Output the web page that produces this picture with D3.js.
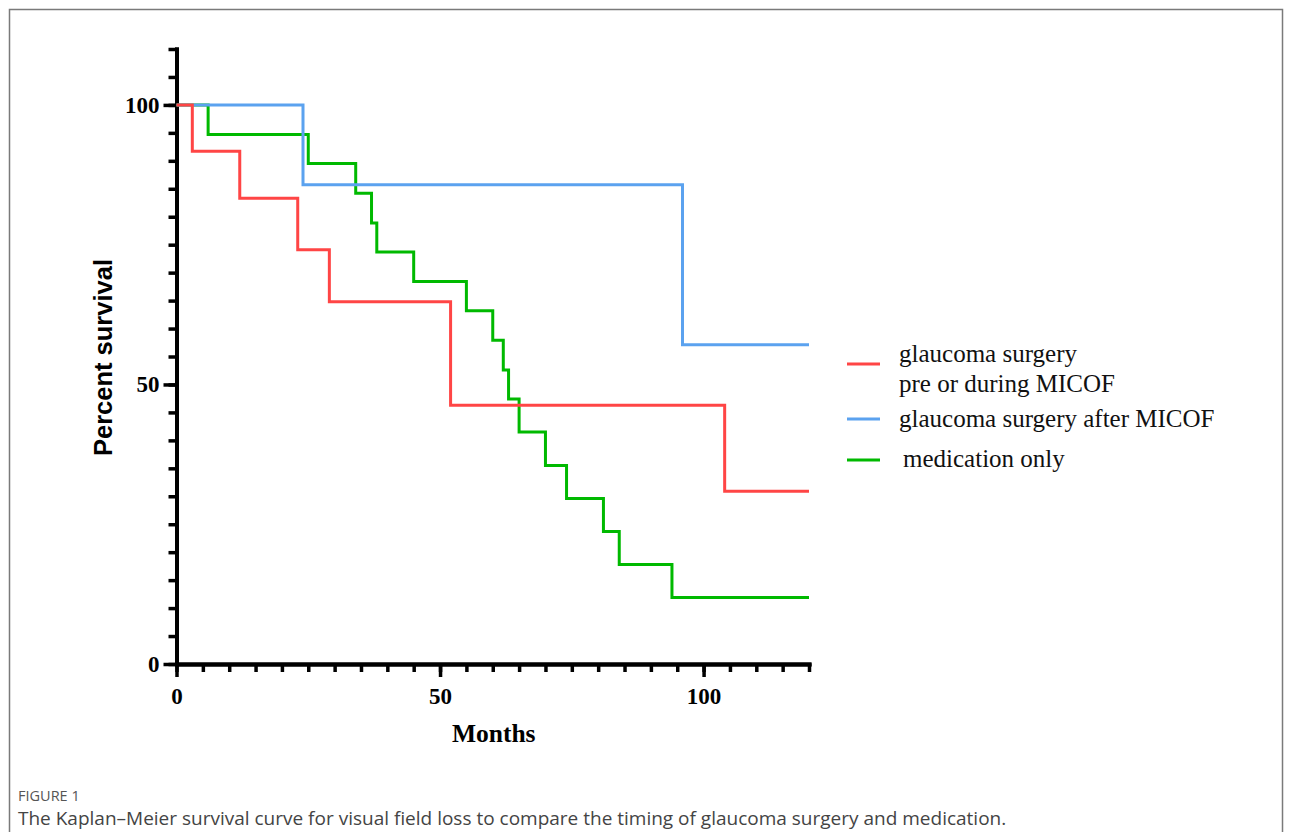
<!DOCTYPE html>
<html>
<head>
<meta charset="utf-8">
<script src="https://cdn.jsdelivr.net/npm/d3@7"></script>
<style>
  body { margin: 0; background: #fff; }
  svg { display: block; }
</style>
</head>
<body>
<script>
// Kaplan-Meier step data
const redTimes = [0, 3, 12, 23, 29, 52, 104, 120];
const redSurvival = [100, 91.7, 83.3, 74.1, 64.8, 46.3, 30.9, 30.9];
const blueTimes = [0, 24, 96, 120];
const blueSurvival = [100, 85.7, 57.1, 57.1];
const greenTimes = [0, 6, 25, 34, 37, 38, 45, 55, 60, 62, 63, 65, 70, 74, 81, 84, 94, 120];
const greenSurvival = [100, 94.7, 89.5, 84.2, 78.9, 73.7, 68.4, 63.2, 57.9, 52.6, 47.4, 41.5, 35.5, 29.6, 23.7, 17.8, 11.9, 11.9];

const seriesNames = [["glaucoma surgery", "pre or during MICOF"], ["glaucoma surgery after MICOF"], ["medication only"]];
const majorTicks = [0, 50, 100];
const xMinorTicks = d3.range(0, 121, 5);
const yMinorTicks = d3.range(0, 111, 5);

const width = 1292, height = 832;

const svg = d3.select("body").append("svg")
    .attr("width", width)
    .attr("height", height);

svg.append("rect")
    .attr("width", width).attr("height", height)
    .attr("fill", "#fff");

// figure frame
svg.append("rect")
    .attr("x", 9.5).attr("y", 9.5)
    .attr("width", 1273).attr("height", 850)
    .attr("fill", "none")
    .attr("stroke", "#7a7a7a")
    .attr("stroke-width", 1.5);

const x = d3.scaleLinear().domain([0, 120]).range([176.5, 809]);
const y = d3.scaleLinear().domain([0, 110]).range([664, 49]);

const serif = "'Liberation Serif', 'Times New Roman', serif";

// minor ticks
svg.append("g")
    .attr("class", "axis")
    .attr("transform", "translate(0," + y(0) + ")")
    .call(d3.axisBottom(x).tickValues(xMinorTicks).tickSize(8).tickSizeOuter(0).tickFormat(""));
svg.append("g")
    .attr("class", "axis")
    .attr("transform", "translate(" + x(0) + ",0)")
    .call(d3.axisLeft(y).tickValues(yMinorTicks).tickSize(8).tickSizeOuter(0).tickFormat(""));

// major ticks with labels
svg.append("g")
    .attr("class", "axis")
    .attr("transform", "translate(0," + y(0) + ")")
    .call(d3.axisBottom(x).tickValues(majorTicks).tickSize(13).tickSizeOuter(0).tickPadding(11));
svg.append("g")
    .attr("class", "axis")
    .attr("transform", "translate(" + x(0) + ",0)")
    .call(d3.axisLeft(y).tickValues(majorTicks).tickSize(13).tickSizeOuter(0).tickPadding(4));

svg.selectAll(".axis path")
    .attr("stroke", "#000")
    .attr("stroke-width", 4)
    .attr("stroke-linecap", "square");
svg.selectAll(".axis line")
    .attr("stroke", "#000")
    .attr("stroke-width", 3.5);
svg.selectAll(".axis text")
    .attr("fill", "#000")
    .attr("font-family", serif)
    .attr("font-weight", "bold")
    .attr("font-size", "23px");

// survival curves
const line = d3.line()
    .x(d => x(d[0]))
    .y(d => y(d[1]))
    .curve(d3.curveStepAfter);

const series = [
    { times: greenTimes, surv: greenSurvival, color: "#00b900" },
    { times: blueTimes, surv: blueSurvival, color: "#5ba2ef" },
    { times: redTimes, surv: redSurvival, color: "#ff4545" }
];

series.forEach(s => {
    svg.append("path")
        .datum(s.times.map((t, i) => [t, s.surv[i]]))
        .attr("d", line)
        .attr("fill", "none")
        .attr("stroke", s.color)
        .attr("stroke-width", 3)
        .attr("stroke-linejoin", "miter");
});

// axis titles
svg.append("text")
    .attr("x", (x(0) + x(120)) / 2 + 1)
    .attr("y", 742)
    .attr("text-anchor", "middle")
    .attr("font-family", serif)
    .attr("font-weight", "bold")
    .attr("font-size", "25.5px")
    .text("Months");

svg.append("text")
    .attr("transform", "translate(112," + (y(55) + 1) + ") rotate(-90)")
    .attr("text-anchor", "middle")
    .attr("font-family", "'Liberation Sans', Arial, sans-serif")
    .attr("font-weight", "bold")
    .attr("font-size", "25.5px")
    .text("Percent survival");

// legend
const legendColors = ["#ff4545", "#5ba2ef", "#00b900"];
const legendY = [364, 419, 460];
const legendTextY = [[362, 392], [427], [467]];
const legendTextX = [899, 899, 903];

seriesNames.forEach((names, i) => {
    svg.append("line")
        .attr("x1", 847).attr("x2", 880)
        .attr("y1", legendY[i]).attr("y2", legendY[i])
        .attr("stroke", legendColors[i])
        .attr("stroke-width", 3);
    names.forEach((n, j) => {
        svg.append("text")
            .attr("x", legendTextX[i])
            .attr("y", legendTextY[i][j])
            .attr("font-family", serif)
            .attr("font-size", "25px")
            .attr("fill", "#111")
            .text(n);
    });
});

// caption
svg.append("text")
    .attr("x", 18).attr("y", 801)
    .attr("font-family", "'Open Sans', 'Noto Sans', sans-serif")
    .attr("font-size", "14.5px")
    .attr("fill", "#555")
    .text("FIGURE 1");

svg.append("text")
    .attr("x", 18).attr("y", 825)
    .attr("font-family", "'Open Sans', 'Noto Sans', sans-serif")
    .attr("font-size", "19px")
    .attr("fill", "#444")
    .text("The Kaplan\u2013Meier survival curve for visual field loss to compare the timing of glaucoma surgery and medication.");
</script>
</body>
</html>
